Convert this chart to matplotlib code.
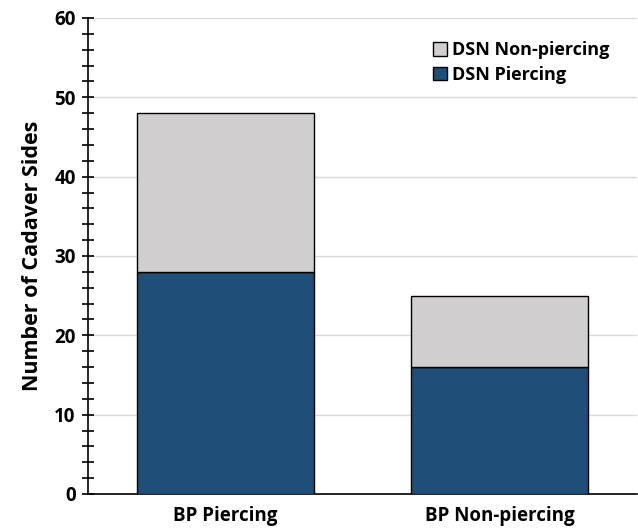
import matplotlib
matplotlib.use("Agg")
import matplotlib.pyplot as plt
from matplotlib.ticker import MultipleLocator

categories = ["BP Piercing", "BP Non-piercing"]
dsn_piercing = [28, 16]
dsn_nonpiercing = [20, 9]

plt.rcParams['font.family'] = ['Open Sans', 'DejaVu Sans']
plt.rcParams['font.weight'] = 'bold'

fig = plt.figure(figsize=(6.38, 5.28), dpi=100)
ax = fig.add_axes([0.138, 0.0644, 0.86, 0.9016])

x = range(len(categories))
ax.bar(x, dsn_piercing, width=0.645, color='#1F4E79', edgecolor='black', linewidth=1.0,
       label='DSN Piercing', zorder=3)
ax.bar(x, dsn_nonpiercing, bottom=dsn_piercing, width=0.645, color='#D0CECE',
       edgecolor='black', linewidth=1.0, label='DSN Non-piercing', zorder=3)

ax.set_xlim(-0.5, 1.5)
ax.set_ylim(0, 60)
ax.yaxis.set_major_locator(MultipleLocator(10))
ax.yaxis.set_minor_locator(MultipleLocator(2))
ax.grid(axis='y', which='major', color='#D9D9D9', linewidth=1.0, zorder=0)
ax.set_xticks(list(x))
ax.set_xticklabels(categories, fontsize=13.5, fontweight='bold')
ax.tick_params(axis='x', length=0, pad=9)
ax.tick_params(axis='y', which='major', direction='inout', length=8, width=1.2, labelsize=13.5, pad=5)
ax.tick_params(axis='y', which='minor', direction='inout', length=8, width=1.2)
for lab in ax.get_yticklabels():
    lab.set_fontweight('bold')
for s in ['top', 'right']:
    ax.spines[s].set_visible(False)
ax.spines['left'].set_linewidth(1.2)
ax.spines['bottom'].set_linewidth(1.2)
ax.set_ylabel('Number of Cadaver Sides', fontsize=15.5, fontweight='bold', labelpad=8)

h, l = ax.get_legend_handles_labels()
ax.legend(h[::-1], l[::-1], loc='upper right', bbox_to_anchor=(0.98, 0.985), frameon=False,
          handlelength=0.75, handleheight=0.75, handletextpad=0.3,
          labelspacing=0.35, prop={'weight': 'bold', 'size': 13})

fig.savefig('out.png', dpi=100)
